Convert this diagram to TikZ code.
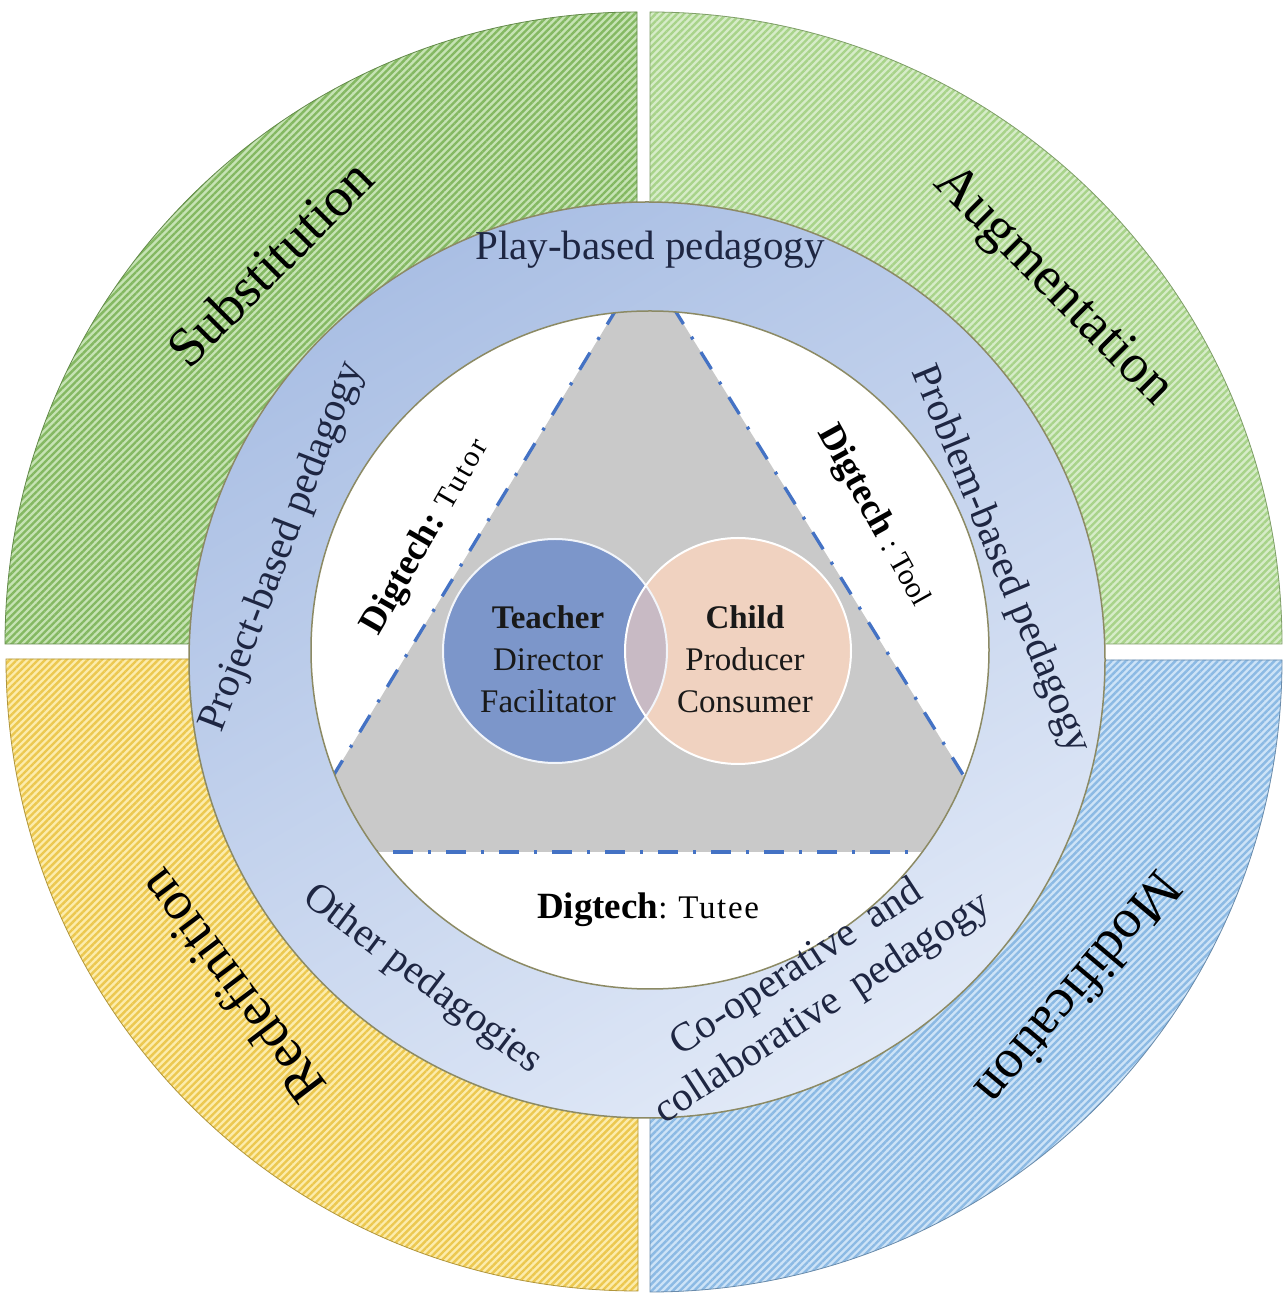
\documentclass[tikz,border=0pt]{standalone}
\usepackage{fontspec}
\setmainfont{Liberation Serif}
\usetikzlibrary{patterns.meta}
\definecolor{ulbase}{RGB}{198,227,180}
\definecolor{ulline}{RGB}{132,184,98}
\definecolor{urbase}{RGB}{214,236,200}
\definecolor{urline}{RGB}{168,211,138}
\definecolor{llbase}{RGB}{252,236,172}
\definecolor{llline}{RGB}{236,200,80}
\definecolor{lrbase}{RGB}{205,227,247}
\definecolor{lrline}{RGB}{140,186,228}
\definecolor{ringtop}{RGB}{170,191,228}
\definecolor{ringbot}{RGB}{225,233,247}
\definecolor{edgeol}{RGB}{140,138,100}
\definecolor{trigrey}{RGB}{201,201,201}
\definecolor{dashblue}{RGB}{68,114,196}
\definecolor{teach}{RGB}{124,150,202}
\definecolor{childc}{RGB}{240,210,192}
\definecolor{lens}{RGB}{200,186,196}
\definecolor{navy}{RGB}{30,38,66}
\begin{document}
\begin{tikzpicture}[x=1pt,y=1pt,
  quad/.style n args={2}{preaction={fill=#1},
    pattern={Lines[angle=45,distance=5pt,line width=2.4pt]},
    pattern color=#2, draw=#2!75!black, line width=0.8pt},
  dashline/.style={draw=dashblue, line width=3.3pt,
    dash pattern=on 20pt off 15pt on 3pt off 15pt},
  edgeline/.style={draw=edgeol, line width=1.5pt},
  ringlbl/.style={font=\fontsize{41}{48}\selectfont, text=navy, inner sep=0pt},
  quadlbl/.style={font=\fontsize{55}{60}\selectfont, text=black, inner sep=0pt},
  venntxt/.style={font=\fontsize{33}{42}\selectfont, text=black!90, align=center, inner sep=0pt},
  diglbl/.style={text=black, inner sep=0pt}]
\useasboundingbox (0,0) rectangle (1288,1299);
\fill[white] (0,0) rectangle (1288,1299);

% SAMR quadrants
\path[quad={ulbase}{ulline}] (637,655) -- ++(0,632) arc[start angle=90,end angle=180,radius=632] -- cycle;
\path[quad={urbase}{urline}] (650,655) -- ++(632,0) arc[start angle=0,end angle=90,radius=632] -- cycle;
\path[quad={llbase}{llline}] (638,640) -- ++(-632,0) arc[start angle=180,end angle=270,radius=632] -- cycle;
\path[quad={lrbase}{lrline}] (650,639) -- ++(0,-632) arc[start angle=270,end angle=360,radius=632] -- cycle;

% pedagogy ring
\shade[top color=ringtop, bottom color=ringbot, shading angle=30] (647,639) circle[radius=458];
\draw[edgeline] (647,639) circle[radius=458];

% inner white circle with triangle
\fill[white] (650,649) circle[radius=339];
\coordinate (apex) at (645,1037);
\coordinate (bl) at (287,447);
\coordinate (br) at (1011,447);
\begin{scope}
  \clip (650,649) circle[radius=339];
  \fill[trigrey] (apex) -- (bl) -- (br) -- cycle;
  \draw[dashline] (apex) -- (bl);
  \draw[dashline] (apex) -- (br);
  \draw[dashline] (bl) -- (br);
\end{scope}
\draw[edgeline] (650,649) circle[radius=339];

% Venn circles
\fill[teach] (555,648) circle[radius=112];
\fill[childc] (738,648) circle[radius=113];
\begin{scope}
  \clip (555,648) circle[radius=112];
  \fill[lens] (738,648) circle[radius=113];
\end{scope}
\draw[white!90!teach, line width=2pt] (555,648) circle[radius=112];
\draw[white, line width=2pt] (738,648) circle[radius=113];

\node[venntxt] (teacher) at (548,640) {\textbf{Teacher}\\Director\\Facilitator};
\node[venntxt] (child) at (745,640) {\textbf{Child}\\Producer\\Consumer};

% Digtech labels
\node[diglbl, rotate=60] (tutor) at (426,762) {{\fontsize{37}{40}\selectfont\bfseries Digtech:}\hspace{11pt}{\fontsize{30}{32}\selectfont\addfontfeature{LetterSpace=8}Tutor}};
\node[diglbl, rotate=-61] (tool) at (874,783) {{\fontsize{37}{40}\selectfont\bfseries Digtech}\,{\fontsize{30}{32}\selectfont\ :\ Tool}};
\node[diglbl] (tutee) at (648,389) {{\fontsize{37}{42}\selectfont\bfseries Digtech}{\fontsize{33}{34}\selectfont: \addfontfeature{LetterSpace=5}Tutee}};

% ring labels
\node[ringlbl] (play) at (650,1049) {Play-based pedagogy};
\node[ringlbl, rotate=69] (project) at (283,752) {Project-based pedagogy};
\node[ringlbl, rotate=-67.5] (problem) at (1000,739) {Problem-based pedagogy};
\node[ringlbl, rotate=-37] (other) at (422,319) {Other pedagogies};
\node[ringlbl, rotate=33, align=center] (coop) at (810,310) {Co-operative\hspace{8pt} and\\collaborative\hspace{8pt} pedagogy};

% quadrant labels
\node[quadlbl, rotate=45] (subst) at (270,1036) {Substitution};
\node[quadlbl, rotate=-45] (augm) at (1052,1012) {Augmentation};
\node[quadlbl, rotate=127] (redef) at (231,312) {Redefinition};
\node[quadlbl, rotate=230] (modif) at (1080,309) {Modification};
\end{tikzpicture}
\end{document}
